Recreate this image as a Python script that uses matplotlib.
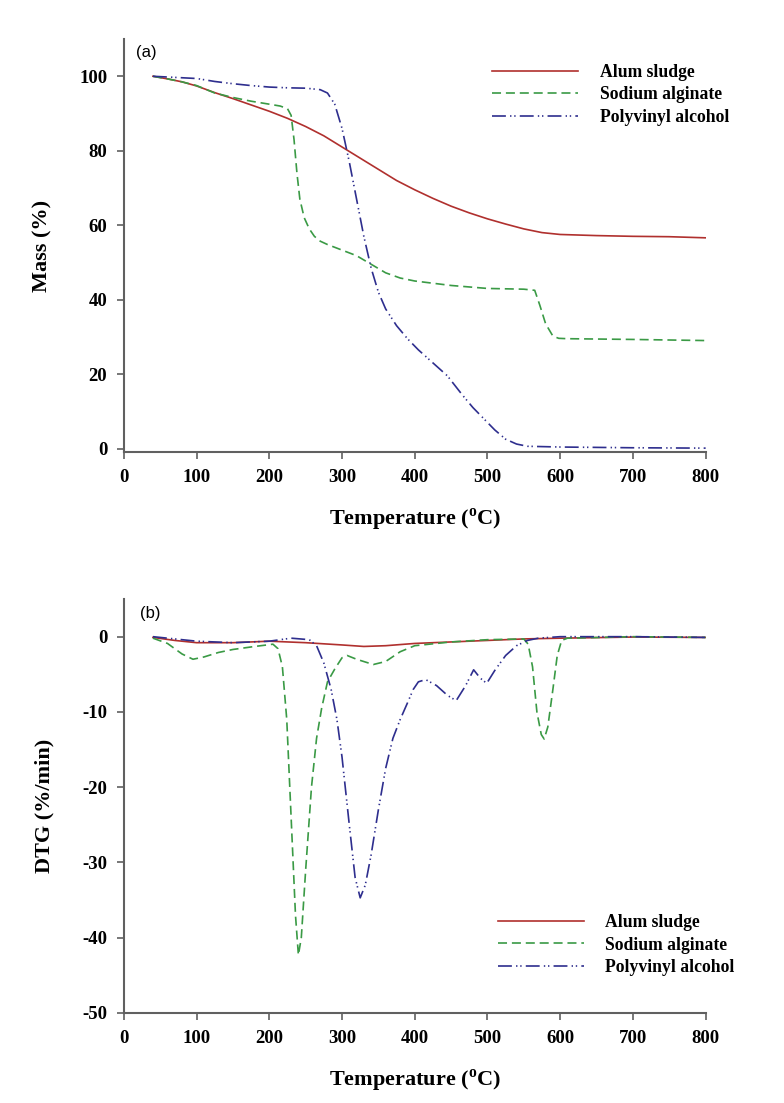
import numpy as np
import matplotlib
matplotlib.use('Agg')
import matplotlib.pyplot as plt

plt.rcParams['font.family'] = ['Liberation Serif', 'DejaVu Serif']
plt.rcParams['font.weight'] = 'bold'
plt.rcParams['mathtext.fontset'] = 'custom'
plt.rcParams['mathtext.rm'] = 'Liberation Serif:bold'
plt.rcParams['lines.scale_dashes'] = False
plt.rcParams['axes.unicode_minus'] = False

# (a) mass curves
t_alum = [40, 60, 80, 100, 125, 150, 175, 200, 225, 250, 275, 300, 325, 350, 375, 400,
          425, 450, 475, 500, 525, 550, 575, 600, 650, 700, 750, 800]
m_alum = [100, 99.3, 98.5, 97.4, 95.6, 94.0, 92.3, 90.6, 88.7, 86.5, 84.0, 81.0, 78.0,
          75.0, 72.0, 69.5, 67.2, 65.1, 63.3, 61.7, 60.3, 59.0, 58.0, 57.5, 57.2, 57.0, 56.9, 56.6]

t_sa = [40, 60, 80, 100, 125, 150, 175, 200, 215, 225, 230, 234, 238, 242, 248, 255, 262,
        270, 280, 300, 320, 340, 360, 380, 400, 450, 500, 550, 565, 572, 580, 590, 598, 610,
        700, 800]
m_sa = [100, 99.3, 98.5, 97.5, 95.5, 94.3, 93.3, 92.5, 92.0, 91.3, 89.5, 83, 74, 67, 62,
        59, 57, 55.7, 54.8, 53.3, 51.8, 49.5, 47.2, 45.8, 45.0, 43.8, 43.0, 42.8, 42.5, 38.5,
        33.5, 30.2, 29.6, 29.5, 29.3, 29.0]

t_pva = [40, 60, 80, 100, 125, 150, 175, 200, 225, 250, 270, 280, 290, 300, 310, 320, 330,
         340, 350, 360, 375, 390, 405, 425, 445, 465, 480, 495, 510, 525, 540, 555, 600, 700,
         800]
m_pva = [100, 99.8, 99.6, 99.4, 98.6, 98.0, 97.5, 97.1, 96.9, 96.8, 96.4, 95.5, 92.5, 86,
         77, 67, 57, 48.5, 42, 37.5, 33, 29.5, 26.5, 23, 19.5, 14.5, 11, 8, 5, 2.5, 1.2,
         0.6, 0.4, 0.2, 0.1]

# (b) DTG curves
t_alum_d = [40, 70, 100, 150, 200, 250, 300, 330, 360, 400, 450, 500, 550, 600, 700, 800]
d_alum = [-0.1, -0.5, -0.8, -0.8, -0.6, -0.8, -1.1, -1.3, -1.2, -0.9, -0.7, -0.5, -0.3, -0.2,
          -0.05, -0.1]

t_sa_d = [40, 60, 80, 95, 110, 130, 150, 180, 205, 212, 218, 224, 230, 236, 240, 244, 250,
          258, 265, 272, 280, 290, 300, 307, 320, 343, 360, 380, 400, 450, 500, 550, 556, 562,
          568, 574, 578, 583, 590, 596, 602, 610, 700, 800]
d_sa = [-0.2, -0.9, -2.3, -3.0, -2.7, -2.1, -1.7, -1.3, -1.0, -1.6, -4, -11, -24, -37, -42.3,
        -40, -31, -20, -13.5, -9.5, -6, -4.3, -2.8, -2.5, -3.0, -3.7, -3.3, -2.0, -1.2, -0.7,
        -0.4, -0.3, -1.0, -4, -10, -13, -13.6, -12, -7, -2.5, -0.5, -0.2, 0, -0.1]

t_pva_d = [40, 70, 100, 150, 200, 230, 255, 265, 275, 285, 293, 300, 310, 318, 325, 332, 340,
           350, 360, 370, 380, 390, 398, 405, 415, 430, 445, 457, 470, 481, 490, 499, 510,
           525, 540, 555, 570, 600, 700, 800]
d_pva = [0.0, -0.3, -0.6, -0.8, -0.6, -0.2, -0.4, -1.2, -3.5, -7, -11, -16, -25, -32, -34.7,
         -33, -29, -23, -17.5, -13.5, -11, -8.8, -7, -6.0, -5.7, -6.5, -7.8, -8.5, -6.5, -4.4,
         -5.5, -6.2, -4.5, -2.5, -1.2, -0.5, -0.2, 0, 0, -0.1]

labels = ['Alum sludge', 'Sodium alginate', 'Polyvinyl alcohol']
colors = ['#b0302e', '#3a9a45', '#2e2e8e']
styles = ['-', (0, (6.5, 3.5)), (0, (10, 3, 1, 2, 1, 3))]

fig = plt.figure(figsize=(7.84, 11.03), dpi=100)
ax1 = fig.add_axes([0.158, 0.590, 0.742, 0.3746])
ax2 = fig.add_axes([0.158, 0.0816, 0.742, 0.3753])

for ax in (ax1, ax2):
    for s in ('top', 'right'):
        ax.spines[s].set_visible(False)
    for s in ('left', 'bottom'):
        ax.spines[s].set_color('#606060')
        ax.spines[s].set_linewidth(1.5)
    ax.tick_params(direction='out', length=5, width=1.2, color='#606060',
                   labelsize=13.5, pad=7)
    ax.set_xlim(0, 800)
    ax.set_xticks(range(0, 801, 100))
    ax.set_xlabel(r'Temperature ($^{\mathrm{o}}$C)', fontsize=16, fontweight='bold', labelpad=15)

ax1.plot(t_alum, m_alum, color=colors[0], ls=styles[0], lw=1.2, label=labels[0])
ax1.plot(t_sa, m_sa, color=colors[1], ls=styles[1], lw=1.2, label=labels[1])
ax1.plot(t_pva, m_pva, color=colors[2], ls=styles[2], lw=1.2, label=labels[2])
ax1.set_ylim(-1, 110)
ax1.set_yticks(range(0, 101, 20))
ax1.set_ylabel('Mass (%)', fontsize=16, fontweight='bold')
ax1.yaxis.set_label_coords(-0.122, 0.5)

ax2.plot(t_alum_d, d_alum, color=colors[0], ls=styles[0], lw=1.2, label=labels[0])
ax2.plot(t_sa_d, d_sa, color=colors[1], ls=styles[1], lw=1.2, label=labels[1])
ax2.plot(t_pva_d, d_pva, color=colors[2], ls=styles[2], lw=1.2, label=labels[2])
ax2.set_ylim(-50, 5)
ax2.set_yticks(range(-50, 1, 10))
ax2.set_ylabel('DTG (%/min)', fontsize=16, fontweight='bold')
ax2.yaxis.set_label_coords(-0.119, 0.5)

fig.text(0.1735, 0.952, '(a)', family='Liberation Sans', fontweight='normal',
         fontsize=12, va='center')
fig.text(0.1786, 0.4442, '(b)', family='Liberation Sans', fontweight='normal',
         fontsize=12, va='center')

leg_kw = dict(loc='center left', frameon=False, borderpad=0, borderaxespad=0,
              handlelength=4.9, handletextpad=1.2, labelspacing=0.3,
              prop={'family': 'Liberation Serif', 'weight': 'bold', 'size': 12.7},
              bbox_transform=fig.transFigure)
ax1.legend(bbox_to_anchor=(0.6276, 0.9139), **leg_kw)
ax2.legend(bbox_to_anchor=(0.635, 0.1432), **leg_kw)

fig.savefig('out.png', dpi=100)
